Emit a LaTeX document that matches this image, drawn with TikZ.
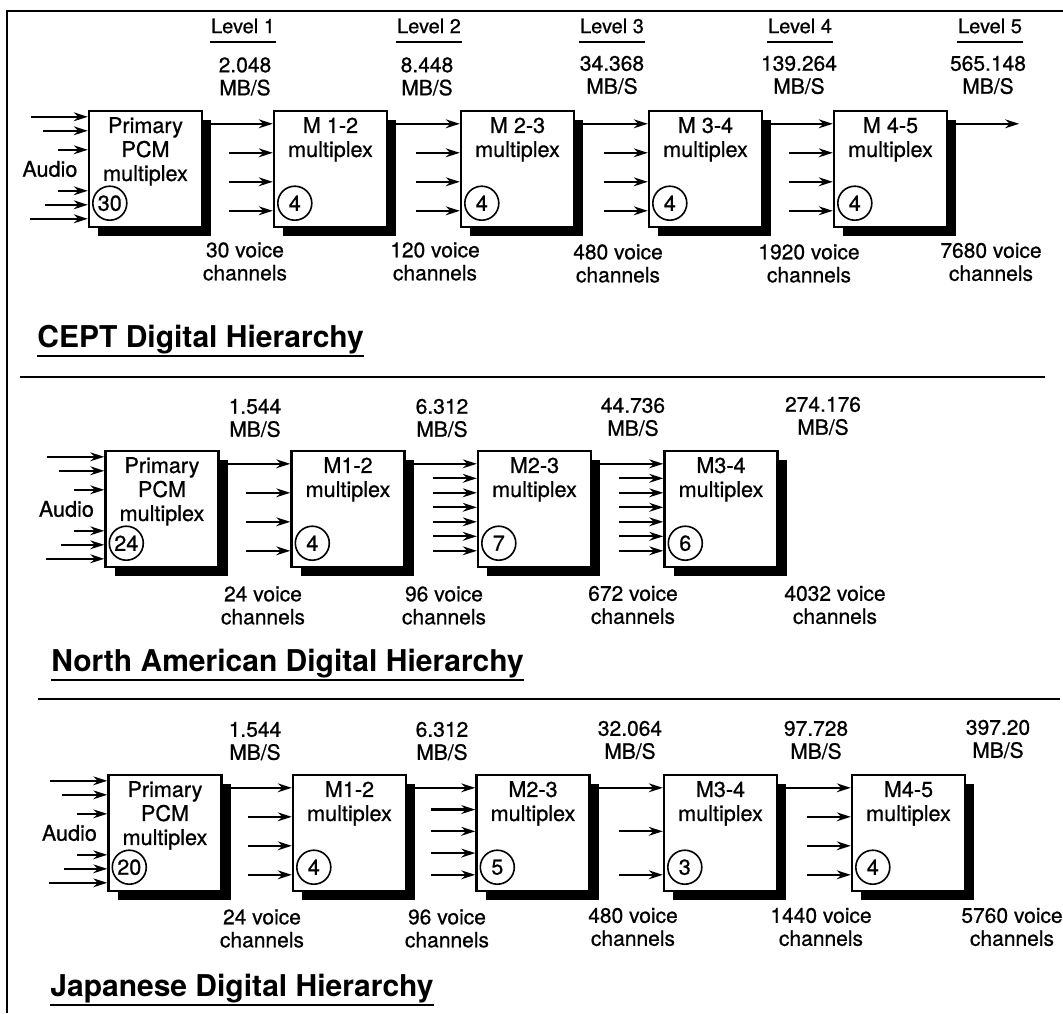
\documentclass[tikz,border=0pt]{standalone}
\usepackage{fontspec}
\setmainfont{TeX Gyre Heros}
\newfontfamily\medfont{TeX Gyre Heros}[FakeBold=0.7]
\usetikzlibrary{arrows.meta, positioning, shadows}

\tikzset{
  mux/.style={draw, line width=1.2pt, fill=white, minimum width=56.5pt, minimum height=58pt, inner sep=0pt,
    general shadow={fill=black, shadow xshift=4.5pt, shadow yshift=-4.5pt}},
  muxtext/.style={align=center, inner sep=0pt, font=\medfont\fontsize{10.8}{12}\selectfont},
  tally/.style={draw, circle, line width=0.8pt, minimum size=17pt, inner sep=0pt, font=\medfont\fontsize{10.8}{12}\selectfont},
  feed/.style={-{Stealth[length=7pt, width=4.4pt]}, line width=1.1pt},
  rate/.style={align=center, inner sep=0pt, font=\medfont\fontsize{10.5}{11.5}\selectfont},
  lvl/.style={inner xsep=0.5pt, inner ysep=0pt, font=\medfont\fontsize{10}{12}\selectfont},
  hiertitle/.style={anchor=base west, inner xsep=0pt, inner ysep=1pt, font=\fontsize{15}{18}\bfseries\selectfont},
  rule/.style={line width=1.1pt}
}

\begin{document}
\begin{tikzpicture}[x=0.5pt, y=-0.5pt, >=Stealth]
  \useasboundingbox (0,0) rectangle (1063,1013);
  % frame
  \draw[rule] (1063,11) -- (7,11) -- (7,1013);

  % CEPT
  \node[mux] (cp) at (145.5,169) {};
  \node[mux] (c2) at (330.5,169) {};
  \node[mux] (c3) at (517.5,169) {};
  \node[mux] (c4) at (705.5,169) {};
  \node[mux] (c5) at (890.5,169) {};
  \node[muxtext, below=3.5pt of cp.north] (cpt) {Primary\\PCM\\multiplex};
  \node[muxtext, below=3.5pt of c2.north] (c2t) {M 1-2\\multiplex};
  \node[muxtext, below=3.5pt of c3.north] (c3t) {M 2-3\\multiplex};
  \node[muxtext, below=3.5pt of c4.north] (c4t) {M 3-4\\multiplex};
  \node[muxtext, below=3.5pt of c5.north] (c5t) {M 4-5\\multiplex};
  \node[tally] (cpn) at ([shift={(22,-25)}]cp.south west) {30};
  \node[tally] (c2n) at ([shift={(22,-25)}]c2.south west) {4};
  \node[tally] (c3n) at ([shift={(22,-25)}]c3.south west) {4};
  \node[tally] (c4n) at ([shift={(22,-25)}]c4.south west) {4};
  \node[tally] (c5n) at ([shift={(22,-25)}]c5.south west) {4};
  \coordinate (cout) at ([shift={(71,14)}]c5.north east);
  \draw[feed] ([shift={(0,14)}]c5.north east) -- (cout);

  \node[lvl] (lv1) at (243,26) {Level 1};
  \node[lvl] (lv2) at (429,26) {Level 2};
  \node[lvl] (lv3) at (612,26) {Level 3};
  \node[lvl] (lv4) at (800,26) {Level 4};
  \node[lvl] (lv5) at (990,26) {Level 5};
  \foreach \l in {lv1,lv2,lv3,lv4,lv5}
    \draw[line width=1pt] ([yshift=-4pt]\l.south west) -- ([yshift=-4pt]\l.south east);

  \node[rate] (cr1) at (245,76.5) {2.048\\MB/S};
  \node[rate] (cr2) at (427,76.5) {8.448\\MB/S};
  \node[rate] (cr3) at (612,75) {34.368\\MB/S};
  \node[rate] (cr4) at (799,75) {139.264\\MB/S};
  \node[rate] (cr5) at (988,75) {565.148\\MB/S};
  \node[rate] (cv1) at (245,261.5) {30 voice\\channels};
  \node[rate] (cv2) at (435,261.5) {120 voice\\channels};
  \node[rate] (cv3) at (618,263.5) {480 voice\\channels};
  \node[rate] (cv4) at (809,263.5) {1920 voice\\channels};
  \node[rate] (cv5) at (991,262) {7680 voice\\channels};

  \node[hiertitle] (ctitle) at (37,347) {CEPT Digital Hierarchy};
  \draw[rule] (ctitle.south west) -- (ctitle.south east);
  \draw[rule] (20,377) -- (1045,377);

  % North American
  \node[mux] (np) at (162,509) {};
  \node[mux] (n2) at (348,509) {};
  \node[mux] (n3) at (534.5,509) {};
  \node[mux] (n4) at (721,509) {};
  \node[muxtext, below=3.5pt of np.north] (npt) {Primary\\PCM\\multiplex};
  \node[muxtext, below=3.5pt of n2.north] (n2t) {M1-2\\multiplex};
  \node[muxtext, below=3.5pt of n3.north] (n3t) {M2-3\\multiplex};
  \node[muxtext, below=3.5pt of n4.north] (n4t) {M3-4\\multiplex};
  \node[tally] (npn) at ([shift={(22,-25)}]np.south west) {24};
  \node[tally] (n2n) at ([shift={(22,-25)}]n2.south west) {4};
  \node[tally] (n3n) at ([shift={(22,-25)}]n3.south west) {7};
  \node[tally] (n4n) at ([shift={(22,-25)}]n4.south west) {6};

  \node[rate] (nr1) at (255,418) {1.544\\MB/S};
  \node[rate] (nr2) at (442,418) {6.312\\MB/S};
  \node[rate] (nr3) at (633,417) {44.736\\MB/S};
  \node[rate] (nr4) at (823,416) {274.176\\MB/S};
  \node[rate] (nv1) at (263,605.5) {24 voice\\channels};
  \node[rate] (nv2) at (444,605.5) {96 voice\\channels};
  \node[rate] (nv3) at (633,605) {672 voice\\channels};
  \node[rate] (nv4) at (835,605) {4032 voice\\channels};

  \node[hiertitle] (ntitle) at (51,671) {North American Digital Hierarchy};
  \draw[rule] (ntitle.south west) -- (ntitle.south east);
  \draw[rule] (38,699) -- (1060,699);

  % Japanese
  \node[mux] (jp) at (165,833) {};
  \node[mux] (j2) at (349.5,833) {};
  \node[mux] (j3) at (533,833) {};
  \node[mux] (j4) at (720.5,833) {};
  \node[mux] (j5) at (908.5,833) {};
  \node[muxtext, below=3.5pt of jp.north] (jpt) {Primary\\PCM\\multiplex};
  \node[muxtext, below=3.5pt of j2.north] (j2t) {M1-2\\multiplex};
  \node[muxtext, below=3.5pt of j3.north] (j3t) {M2-3\\multiplex};
  \node[muxtext, below=3.5pt of j4.north] (j4t) {M3-4\\multiplex};
  \node[muxtext, below=3.5pt of j5.north] (j5t) {M4-5\\multiplex};
  \node[tally] (jpn) at ([shift={(22,-25)}]jp.south west) {20};
  \node[tally] (j2n) at ([shift={(22,-25)}]j2.south west) {4};
  \node[tally] (j3n) at ([shift={(22,-25)}]j3.south west) {5};
  \node[tally] (j4n) at ([shift={(22,-25)}]j4.south west) {3};
  \node[tally] (j5n) at ([shift={(22,-25)}]j5.south west) {4};

  \node[rate] (jr1) at (255,741) {1.544\\MB/S};
  \node[rate] (jr2) at (442,741) {6.312\\MB/S};
  \node[rate] (jr3) at (630,740) {32.064\\MB/S};
  \node[rate] (jr4) at (816,740) {97.728\\MB/S};
  \node[rate] (jr5) at (998,739) {397.20\\MB/S};
  \node[rate] (jv1) at (262,928.5) {24 voice\\channels};
  \node[rate] (jv2) at (447,928.5) {96 voice\\channels};
  \node[rate] (jv3) at (633,927) {480 voice\\channels};
  \node[rate] (jv4) at (821,927) {1440 voice\\channels};
  \node[rate] (jv5) at (1012,927) {5760 voice\\channels};

  \node[hiertitle] (jtitle) at (50,996) {Japanese Digital Hierarchy};
  \draw[rule] (jtitle.south west) -- (jtitle.south east);

  % audio inputs
  \foreach \p in {cp,np,jp} {
    \node[muxtext, left=5pt of \p.west] (\p a) {Audio};
    \foreach \dy/\len in {7/57, 21/45, 40/30, 81/30, 95/43, 109/58}
      \draw[feed] ([shift={(-\len,\dy)}]\p.north west) -- ([shift={(0,\dy)}]\p.north west);
  }
  % links between stages
  \foreach \a/\b in {cp/c2, c2/c3, c3/c4, c4/c5, np/n2, n2/n3, n3/n4, jp/j2, j2/j3, j3/j4, j4/j5}
    \draw[feed] ([shift={(0,14)}]\a.north east) -- ([shift={(0,14)}]\b.north west);
  % tributary inputs
  \foreach \b/\n in {c2/3, c3/3, c4/3, c5/3, n2/3, n3/6, n4/6, j2/3, j3/4, j4/2, j5/3}
    \foreach \k in {1,...,\n}
      \draw[feed] ([shift={(-44,14+87*\k/\n)}]\b.north west) -- ([shift={(0,14+87*\k/\n)}]\b.north west);
\end{tikzpicture}
\end{document}
